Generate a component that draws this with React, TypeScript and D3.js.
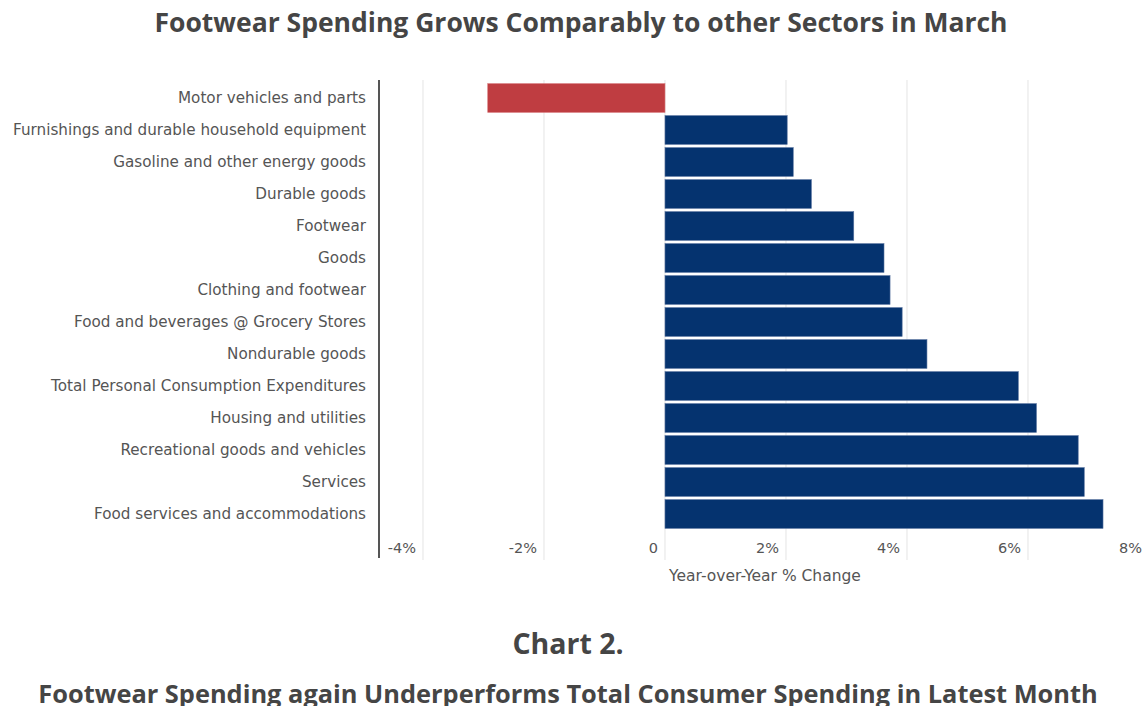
import React from "react";
import * as d3 from "d3";

const categories = [
  "Motor vehicles and parts",
  "Furnishings and durable household equipment",
  "Gasoline and other energy goods",
  "Durable goods",
  "Footwear",
  "Goods",
  "Clothing and footwear",
  "Food and beverages @ Grocery Stores",
  "Nondurable goods",
  "Total Personal Consumption Expenditures",
  "Housing and utilities",
  "Recreational goods and vehicles",
  "Services",
  "Food services and accommodations",
];
const values = [-2.93, 2.02, 2.12, 2.42, 3.12, 3.62, 3.72, 3.92, 4.33, 5.84, 6.14, 6.83, 6.93, 7.24];
const ticks = [-4, -2, 0, 2, 4, 6, 8];
const tickLabels = ["-4%", "-2%", "0", "2%", "4%", "6%", "8%"];

const W = 1145;
const H = 706;
const font = "'Open Sans', sans-serif";
const labelFont = "'DejaVu Sans', sans-serif";

export default function App() {
  const x = d3.scaleLinear().domain([-4.727, 8]).range([379, 1149]);
  const y = d3.scaleBand<string>().domain(categories).range([82, 530]).paddingInner(0.1).paddingOuter(0.05);
  return (
    <svg width={W} height={H} style={{ position: "absolute", left: 0, top: 0, background: "#fff" }}>
      <text x={581} y={32} textAnchor="middle" fontFamily={font} fontWeight={700} fontSize={26.5} fill="#454545">
        Footwear Spending Grows Comparably to other Sectors in March
      </text>
      {ticks.map((t, i) => (
        <g key={t}>
          <line x1={x(t)} x2={x(t)} y1={80} y2={560} stroke="#e4e4e4" strokeWidth={1} />
          <text x={x(t) - 7} y={553} textAnchor="end" fontFamily={labelFont} fontSize={14.5} fill="#555">
            {tickLabels[i]}
          </text>
        </g>
      ))}
      {categories.map((c, i) => {
        const v = values[i];
        const x0 = x(Math.min(0, v));
        const x1 = x(Math.max(0, v));
        return (
          <g key={c}>
            <rect
              x={x0}
              y={y(c)}
              width={x1 - x0}
              height={y.bandwidth()}
              fill={v < 0 ? "#bf3d41" : "#05336f"}
              stroke={v < 0 ? "#d77a7c" : "#5a74a0"}
              strokeWidth={0.6}
            />
            <text
              x={366}
              y={(y(c) as number) + y.bandwidth() / 2}
              dy="0.35em"
              textAnchor="end"
              fontFamily={labelFont}
              fontSize={15.2}
              fill="#555"
            >
              {c}
            </text>
          </g>
        );
      })}
      <line x1={379} x2={379} y1={80} y2={558} stroke="#555" strokeWidth={2} />
      <text x={765} y={581} textAnchor="middle" fontFamily={labelFont} fontSize={15.5} fill="#555">
        Year-over-Year % Change
      </text>
      <text x={568} y={654} textAnchor="middle" fontFamily={font} fontWeight={700} fontSize={28.5} fill="#454545">
        Chart 2.
      </text>
      <text x={568} y={703} textAnchor="middle" fontFamily={font} fontWeight={700} fontSize={25.4} fill="#454545">
        Footwear Spending again Underperforms Total Consumer Spending in Latest Month
      </text>
    </svg>
  );
}
